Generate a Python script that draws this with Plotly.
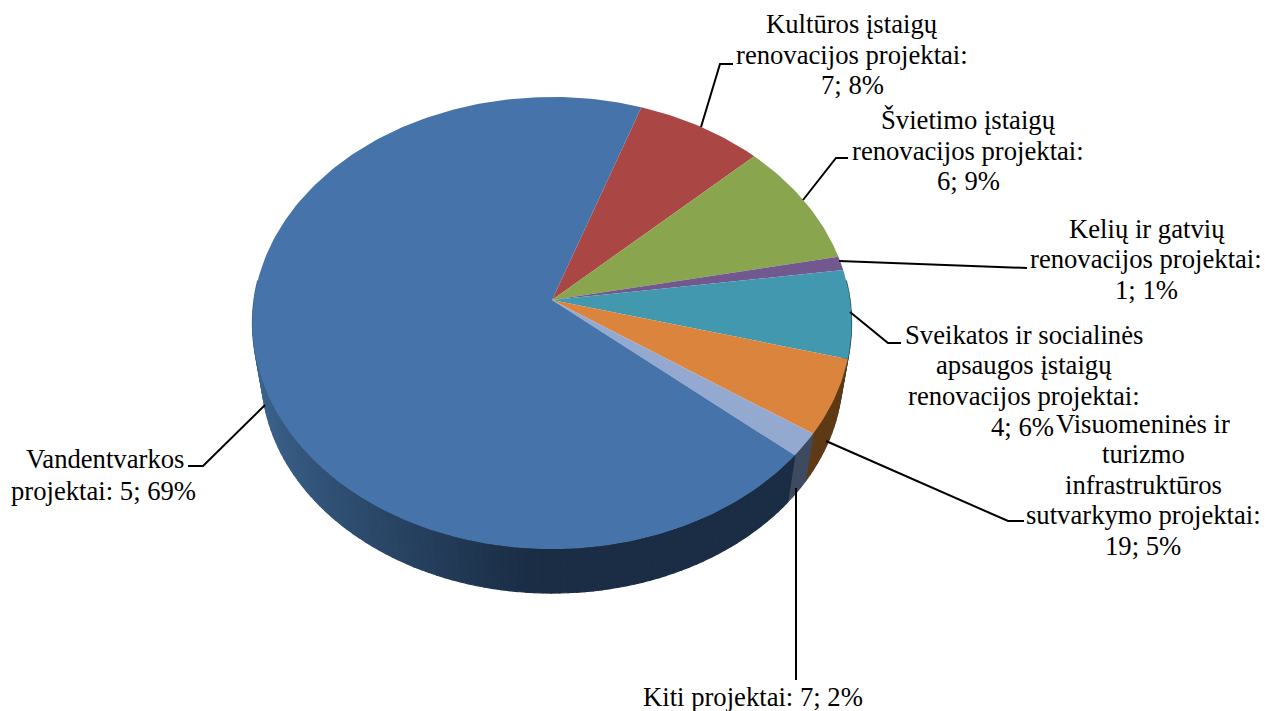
import math
import plotly.graph_objects as go

# ---- data ----
categories = ["Kultūros įstaigų renovacijos projektai", "Švietimo įstaigų renovacijos projektai",
              "Kelių ir gatvių renovacijos projektai", "Sveikatos ir socialinės apsaugos įstaigų renovacijos projektai",
              "Visuomeninės ir turizmo infrastruktūros sutvarkymo projektai", "Kiti projektai", "Vandentvarkos projektai"]
percent = [7.6, 8.9, 1.0, 6.3, 5.4, 1.7, 69.1]
counts = [7, 6, 1, 4, 19, 7, 5]

# ---- styles ----
top_colors = ["#AA4643", "#89A54E", "#71588F", "#4198AF", "#DB843D", "#93A9CF", "#4674AA"]
rim_colors = ["#5E2624", "#4A5A2A", "#3D2F4E", "#23535F", "#5E3A16", "#3E4A60", None]
START_DEG = 19.2
CX, CY, B, A, K = 552.0, 300.0, 298.0, 223.7, 0.1018
DEPTH_CY, DEPTH_S = 351.5, 0.97
FONT = "Liberation Serif"
FS = 26.67

# label lines: text, centre x, centre y
label_lines = [
    ("Kultūros įstaigų", 852, 24), ("renovacijos projektai:", 852, 55), ("7; 8%", 852, 85),
    ("Švietimo įstaigų", 968, 120), ("renovacijos projektai:", 968, 151), ("6; 9%", 968, 181),
    ("Kelių ir gatvių", 1147, 229), ("renovacijos projektai:", 1146, 259), ("1; 1%", 1146, 290),
    ("Sveikatos ir socialinės", 1024, 335), ("apsaugos įstaigų", 1024, 365),
    ("renovacijos projektai:", 1024, 396), ("4; 6%", 1022, 427),
    ("Visuomeninės ir", 1143, 424), ("turizmo", 1143, 454), ("infrastruktūros", 1143, 485),
    ("sutvarkymo projektai:", 1143, 515), ("19; 5%", 1143, 546),
    ("Kiti projektai: 7; 2%", 753, 697),
    ("Vandentvarkos", 105, 459), ("projektai: 5; 69%", 103, 491),
]
leaders = [
    [(701, 127), (720, 64), (733, 64)],
    [(803, 200), (836, 158), (848, 158)],
    [(839, 261), (1027, 268)],
    [(850, 312), (888, 343), (901, 343)],
    [(826, 441), (1008, 521), (1024, 521)],
    [(796, 488), (796, 680)],
    [(265, 405), (203, 466), (188, 466)],
]


def top_pt(deg):
    t = math.radians(deg)
    u, v = math.sin(t), math.cos(t)
    d = 1 + K * v
    return CX + B * u / d, CY - A * v / d


def bottom_pt(deg):
    t = math.radians(deg)
    u, v = math.sin(t), math.cos(t)
    d = 1 + K * v
    return CX + DEPTH_S * B * u / d, DEPTH_CY - DEPTH_S * A * v / d


def mix(c1, c2, f):
    return "#%02x%02x%02x" % tuple(round(a + (b - a) * f) for a, b in zip(c1, c2))


fig = go.Figure()

# slice spans from the percentages
spans = []
a0 = START_DEG
total = sum(percent)
for p in percent:
    a1 = a0 + 360 * p / total
    spans.append((a0, a1))
    a0 = a1

# rim (front side only)
for (a0, a1), col in zip(spans, rim_colors):
    lo, hi = max(a0, 85), min(a1, 275)
    if lo >= hi:
        continue
    n = max(1, int((hi - lo) / 1.5))
    for i in range(n):
        d0, d1 = lo + (hi - lo) * i / n, lo + (hi - lo) * (i + 1) / n
        p = [top_pt(d0), top_pt(d1), bottom_pt(d1), bottom_pt(d0)]
        if col is None:
            xm = sum(q[0] for q in p) / 4
            f = min(1, max(0, (xm - 258) / (530 - 258)))
            c = mix((0x3C, 0x64, 0x8E), (0x1A, 0x2D, 0x45), f ** 0.8)
        else:
            c = col
        fig.add_trace(go.Scatter(x=[q[0] for q in p] + [p[0][0]], y=[q[1] for q in p] + [p[0][1]],
                                 mode="lines", fill="toself", fillcolor=c,
                                 line=dict(color=c, width=1.2), hoverinfo="skip", showlegend=False))

# top face slices
for (a0, a1), col, name in zip(spans, top_colors, categories):
    n = max(2, int((a1 - a0) / 1.0))
    pts = [top_pt(a0 + (a1 - a0) * i / n) for i in range(n + 1)]
    xs = [CX] + [q[0] for q in pts] + [CX]
    ys = [CY] + [q[1] for q in pts] + [CY]
    fig.add_trace(go.Scatter(x=xs, y=ys, mode="lines", fill="toself", fillcolor=col,
                             line=dict(color=col, width=0), name=name, hoverinfo="name", showlegend=False))

# leader lines
for seg in leaders:
    fig.add_trace(go.Scatter(x=[q[0] for q in seg], y=[q[1] for q in seg], mode="lines",
                             line=dict(color="black", width=2), hoverinfo="skip", showlegend=False))

# labels
for text, x, y in label_lines:
    fig.add_annotation(x=x, y=y, text=text, showarrow=False, xanchor="center", yanchor="middle",
                       font=dict(family=FONT, size=FS, color="black"))

fig.update_xaxes(range=[0, 1280], visible=False, fixedrange=True)
fig.update_yaxes(range=[711, 0], visible=False, fixedrange=True)
fig.update_layout(width=1280, height=711, margin=dict(l=0, r=0, t=0, b=0),
                  paper_bgcolor="white", plot_bgcolor="white", showlegend=False)
fig.write_html("out.html", config={"displayModeBar": False},
               post_script="document.body.style.margin='0';document.documentElement.style.overflow='hidden';")
